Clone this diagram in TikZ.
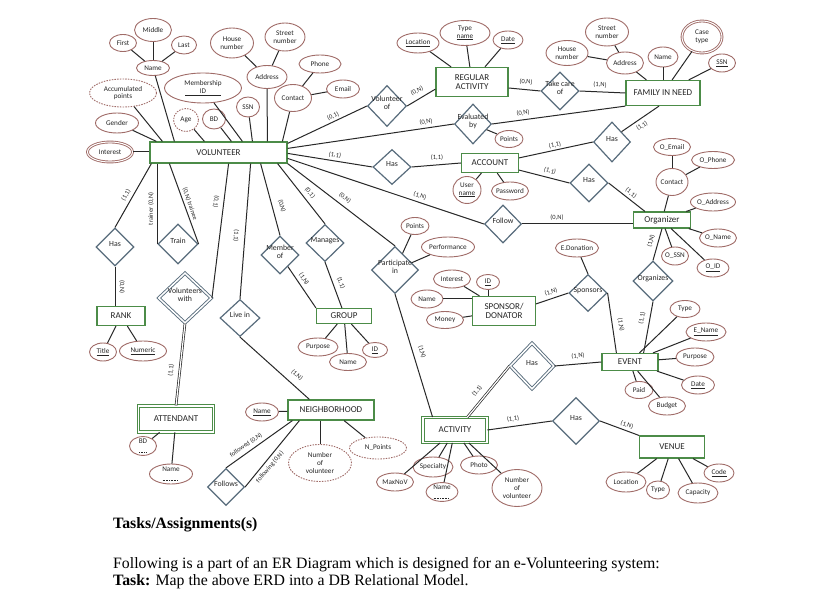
\documentclass[tikz,border=0pt]{standalone}
\usepackage{fontspec}
\setmainfont{Liberation Serif}
\newfontfamily\erfont{Carlito}
\usetikzlibrary{shapes.geometric}

\definecolor{attrc}{RGB}{160,108,104}
\definecolor{entc}{RGB}{76,140,72}
\definecolor{relc}{RGB}{88,108,124}
\definecolor{linec}{RGB}{40,40,40}

% text of a diamond, allowed to stick out of it
\newcommand{\rtxt}[1]{\smash{\makebox[0pt]{\begin{tabular}{@{}c@{}}#1\end{tabular}}}}
% dotted underline of a partial key
\newcommand{\dotul}[1]{\setbox0\hbox{#1}\vtop{\copy0\kern0.9pt\hbox to\wd0{\leaders\hbox to 1.6pt{\hss\vrule width 0.8pt height 0.45pt\hss}\hfill}}}

\tikzset{
  sz/.style 2 args={minimum width=#1pt, minimum height=#2pt},
  attr/.style={ellipse, draw=attrc, line width=0.9pt, fill=white, inner xsep=-3pt, inner ysep=0pt, align=center, text=black!85, font=\erfont\fontsize{7.2}{7.8}\selectfont},
  ent/.style={rectangle, draw=entc, line width=1.2pt, fill=white, inner sep=0pt, align=center, text=black!85, font=\erfont\fontsize{9}{9.5}\selectfont},
  rel/.style={diamond, draw=relc, line width=1.2pt, fill=white, inner sep=0pt, text=black!85, font=\erfont\fontsize{7.8}{8.2}\selectfont},
  link/.style={draw=linec, line width=1pt},
  twin/.style={draw=linec, double=white, double distance=1.2pt, line width=0.7pt},
  card/.style={inner sep=0pt, text=black!85, font=\erfont\fontsize{6.5}{7}\selectfont},
  derived/.style={dash pattern=on 1.5pt off 1.2pt},
  multi/.style={double=white, double distance=1pt},
  weak/.style={double=white, double distance=1.5pt, line width=0.9pt},
}

\begin{document}
\begin{tikzpicture}[x=1pt, y=-1pt]
	\fill[white] (0,0) rectangle (827,601);
	\useasboundingbox (0,0) rectangle (827,601);
	
	% volunteer
	\node[ent, sz={137}{21}] (vol) at (218.5,152.5) {VOLUNTEER};
	\node[attr, sz={37}{23}] (middle) at (153,30) {Middle};
	\node[attr, sz={27}{17}] (first) at (123,43) {First};
	\node[attr, sz={25}{18}] (last) at (184,45) {Last};
	\node[attr, sz={33}{15}] (vname) at (153,68) {Name};
	\node[attr, sz={43}{30}] (vhouse) at (232,43) {House\\number};
	\node[attr, sz={40}{28}] (vstreet) at (285,37) {Street\\number};
	\node[attr, sz={40}{23}] (vaddr) at (267,77) {Address};
	\node[attr, sz={42}{18}] (vphone) at (320,64) {Phone};
	\node[attr, sz={37}{27}] (vcontact) at (293,98) {Contact};
	\node[attr, sz={33}{18}] (vemail) at (343,89) {Email};
	\node[attr, sz={77}{30}] (memid) at (203,88) {Membership\\\underline{\makebox[36pt]{ID}}};
	\node[attr, sz={67}{28}, derived] (accum) at (123,93) {Accumulated\\points};
	\node[attr, sz={23}{20}] (vssn) at (248,107) {SSN};
	\node[attr, sz={23}{20}] (vbd) at (214,119) {BD};
	\node[attr, sz={25}{23}, derived] (age) at (186,120) {Age};
	\node[attr, sz={43}{20}] (gender) at (117,123) {Gender};
	\node[attr, sz={45}{20}, multi] (interest) at (110,152) {Interest};
	
	% regular activity
	\node[ent, sz={72}{29}] (reg) at (472,82) {REGULAR\\ACTIVITY};
	\node[attr, sz={42}{20}] (rloc) at (418,43) {\underline{Location}};
	\node[attr, sz={50}{25}] (rtype) at (465,33) {Type\\\underline{name}};
	\node[attr, sz={30}{18}] (rdate) at (508,40) {\underline{Date}};
	\node[rel, sz={39}{41}] (volof) at (387,106) {\rtxt{Volunteer\\of}};
	\node[rel, sz={37}{40}] (evb) at (473,124) {\rtxt{Evaluated\\by}};
	\node[attr, sz={28}{17}] (points1) at (509,139) {Points};
	
	% account
	\node[rel, sz={38}{35}] (hasacc) at (392,167) {\rtxt{Has}};
	\node[ent, sz={57}{19}] (acc) at (490,163) {ACCOUNT};
	\node[attr, sz={28}{27}] (uname) at (467,190) {User\\\underline{name}};
	\node[attr, sz={37}{18}] (pwd) at (510,191) {Password};
	
	% family in need
	\node[ent, sz={74}{25}] (fam) at (663,93) {FAMILY IN NEED};
	\node[rel, sz={38}{38}] (tco) at (560,91) {\rtxt{Take care\\of}};
	\node[attr, sz={43}{28}] (fstreet) at (607,32) {Street\\number};
	\node[attr, sz={42}{25}] (fhouse) at (567,53) {House\\number};
	\node[attr, sz={37}{22}] (faddr) at (625,63) {Address};
	\node[attr, sz={30}{20}] (fname) at (663,57) {Name};
	\node[attr, sz={40}{32}, multi] (ctype) at (702,37) {Case\\type};
	\node[attr, sz={27}{18}] (fssn) at (722,63) {\underline{SSN}};
	\node[rel, sz={37}{40}] (hasfam) at (612,142) {\rtxt{Has}};
	
	% organizer
	\node[rel, sz={38}{38}] (hasorg) at (589,183) {\rtxt{Has}};
	\node[ent, sz={57}{16}] (org) at (662,220) {Organizer};
	\node[attr, sz={37}{17}] (oemail) at (672,147) {O\_Email};
	\node[attr, sz={43}{17}] (ophone) at (713,160) {O\_Phone};
	\node[attr, sz={32}{27}] (ocontact) at (672,182) {Contact};
	\node[attr, sz={45}{18}] (oaddr) at (713,202) {O\_Address};
	\node[attr, sz={37}{18}] (oname) at (718,238) {O\_Name};
	\node[attr, sz={27}{18}] (ossn) at (675,256) {O\_SSN};
	\node[attr, sz={32}{18}] (oid) at (713,268) {\underline{O\_ID}};
	\node[rel, sz={37}{38}] (fol) at (503,224) {\rtxt{Follow}};
	\node[rel, sz={40}{40}] (orgz) at (653,281) {\rtxt{Organizes}};
	
	% participation, sponsor
	\node[rel, sz={47}{47}] (part) at (395,270) {\rtxt{Participate\\in}};
	\node[attr, sz={28}{17}] (ppoints) at (415,226) {Points};
	\node[attr, sz={53}{20}] (perf) at (448,247) {Performance};
	\node[ent, sz={63}{29}] (spon) at (504,311) {SPONSOR/\\DONATOR};
	\node[attr, sz={37}{18}] (sint) at (452,279) {Interest};
	\node[attr, sz={23}{15}] (sid) at (488,282) {\underline{ID}};
	\node[attr, sz={32}{18}] (sname) at (427,299) {Name};
	\node[attr, sz={37}{17}] (money) at (445,320) {Money};
	\node[attr, sz={43}{18}] (edon) at (577,248) {E.Donation};
	\node[rel, sz={38}{37}] (sps) at (588,293) {\rtxt{Sponsors}};
	
	% rank, train, group
	\node[rel, sz={38}{38}] (hasr) at (115,247) {\rtxt{Has}};
	\node[ent, sz={48}{19}] (rank) at (121,316) {RANK};
	\node[attr, sz={27}{18}] (title) at (103,352) {\underline{Title}};
	\node[attr, sz={47}{20}] (numeric) at (143,351) {\underline{Numeric}};
	\node[rel, sz={40}{40}] (train) at (178,244) {\rtxt{Train}};
	\node[rel, sz={53}{50}, weak] (vw) at (185,298) {\rtxt{Volunteers\\with}};
	\node[rel, sz={40}{37}] (livein) at (240,318) {\rtxt{Live in}};
	\node[rel, sz={38}{37}] (man) at (325,243) {\rtxt{Manages}};
	\node[rel, sz={38}{38}] (mem) at (280,255) {\rtxt{Member\\of}};
	\node[ent, sz={55}{15}] (grp) at (344,316) {GROUP};
	\node[attr, sz={40}{18}] (purpose) at (318,347) {Purpose};
	\node[attr, sz={37}{17}] (gname) at (348,362) {Name};
	\node[attr, sz={25}{15}] (gid) at (375,350) {\underline{ID}};
	
	% attendant, neighborhood
	\node[ent, sz={75}{26}, weak] (att) at (176,419) {ATTENDANT};
	\node[attr, sz={27}{18}] (abd) at (143,446) {\dotul{BD}};
	\node[attr, sz={43}{20}] (aname) at (171,474) {\dotul{Name}};
	\node[ent, sz={86}{20}] (nbh) at (331,410) {NEIGHBORHOOD};
	\node[attr, sz={33}{18}] (nname) at (262,412) {\underline{Name}};
	\node[attr, sz={63}{37}, derived] (numvol) at (320,463) {Number\\of\\volunteer};
	\node[attr, sz={57}{22}, derived] (npoints) at (378,448) {N\_Points};
	\node[rel, sz={37}{37}] (follows) at (226,487) {\rtxt{Follows}};
	
	% activity, event, venue
	\node[ent, sz={64}{25}, weak] (act) at (455,430) {ACTIVITY};
	\node[rel, sz={44}{46}, weak] (hasev) at (532,366) {\rtxt{Has}};
	\node[rel, sz={47}{47}] (hasven) at (576,421) {\rtxt{Has}};
	\node[attr, sz={40}{20}] (spec) at (433,467) {Specialty};
	\node[attr, sz={37}{18}] (photo) at (479,465) {Photo};
	\node[attr, sz={37}{18}] (maxnov) at (395,482) {MaxNoV};
	\node[attr, sz={32}{17}] (aname2) at (442,492) {\dotul{Name}};
	\node[attr, sz={50}{37}] (anumvol) at (517,488) {Number\\of\\volunteer};
	\node[ent, sz={56}{17}] (evt) at (630,362) {EVENT};
	\node[attr, sz={30}{17}] (etype) at (685,309) {Type};
	\node[attr, sz={40}{18}] (ename) at (706,332) {\underline{E\_Name}};
	\node[attr, sz={38}{18}] (epurp) at (695,357) {Purpose};
	\node[attr, sz={33}{18}] (edate) at (698,385) {\underline{Date}};
	\node[attr, sz={28}{17}] (paid) at (639,390) {Paid};
	\node[attr, sz={37}{18}] (budget) at (667,406) {Budget};
	\node[ent, sz={65}{22}] (ven) at (672,447) {VENUE};
	\node[attr, sz={40}{20}] (vloc) at (626,482) {Location};
	\node[attr, sz={23}{18}] (vtype) at (658,490) {Type};
	\node[attr, sz={40}{20}] (cap) at (698,493) {Capacity};
	\node[attr, sz={30}{18}] (code) at (719,473) {\underline{Code}};
	
	% volunteer attributes
	\draw[link] (vname) -- (first);
	\draw[link] (vname) -- (middle);
	\draw[link] (vname) -- (last);
	\draw[link] (vaddr) -- (vhouse);
	\draw[link] (vaddr) -- (vstreet);
	\draw[link] (vcontact) -- (vphone);
	\draw[link] (vcontact) -- (vemail);
	\draw[link] (interest) -- (interest -| vol.west);
	\draw[link] (gender) -- ([xshift=7pt]vol.north west);
	\draw[link] (accum) -- ([xshift=13pt]vol.north west);
	\draw[link] (vname) -- ([xshift=25pt]vol.north west);
	\draw[link] (age) -- ([xshift=55pt]vol.north west);
	\draw[link] (vbd) -- ([xshift=82pt]vol.north west);
	\draw[link] (memid) -- ([xshift=93pt]vol.north west);
	\draw[link] (vssn) -- ([xshift=103pt]vol.north west);
	\draw[link] (vaddr) -- ([xshift=118pt]vol.north west);
	\draw[link] (vcontact) -- ([xshift=133pt]vol.north west);
	
	% volunteer relationships
	\draw[link] ([yshift=-2pt]vol.north east) -- (volof.west);
	\draw[link] (volof.east) -- ([yshift=8pt]reg.south west);
	\draw[link] ([yshift=-7pt]vol.north east) -- (evb.west);
	\draw[link] (evb.east) -- (fam.south west);
	\draw[link] (evb) -- (points1);
	\draw[link] ([yshift=-12pt]vol.north east) -- (hasacc.west);
	\draw[link] (hasacc.east) -- (acc.west);
	\draw[link] ([yshift=-17pt]vol.north east) -- (fol.west);
	\draw[link] (fol.east) -- (fol.east -| org.west);
	\draw[link] (vol.south east) -- (part.north);
	\draw[link] ([xshift=-10pt]vol.south east) -- (man.north);
	\draw[link] ([xshift=-27pt]vol.south east) -- (mem.north);
	\draw[link] ([xshift=-37pt]vol.south east) -- (livein.north);
	\draw[link] ([xshift=-59pt]vol.south east) -- (vw.east);
	\draw[link] ([xshift=20pt]vol.south west) -- (train.east);
	\draw[link] ([xshift=8pt]vol.south west) -- (train.west);
	\draw[link] ([xshift=2pt]vol.south west) -- (hasr.north);
	
	% regular activity, family
	\draw[link] (reg) -- (rloc);
	\draw[link] (reg) -- (rtype);
	\draw[link] (reg) -- (rdate);
	\draw[link] ([yshift=-6pt]reg.east) -- (tco.west);
	\draw[link] (tco.east) -- (fam.west);
	\draw[link] (faddr) -- (fhouse);
	\draw[link] (faddr) -- (fstreet);
	\draw[link] (fam) -- (faddr);
	\draw[link] (fam) -- (fname);
	\draw[link] (fam) -- (ctype);
	\draw[link] (fam) -- (fssn);
	
	% account, organizer
	\draw[link] (acc) -- (uname);
	\draw[link] (acc) -- (pwd);
	\draw[link] ([yshift=-5pt]acc.north east) -- (hasfam.west);
	\draw[link] (hasfam.north east) -- ([xshift=-4pt]fam.south);
	\draw[link] ([yshift=3pt]acc.south east) -- (hasorg.west);
	\draw[link] (hasorg.east) -- ([xshift=12pt]org.north west);
	\draw[link] (org) -- (ocontact);
	\draw[link] (ocontact) -- (oemail);
	\draw[link] (ocontact) -- (ophone);
	\draw[link] (org) -- (oaddr);
	\draw[link] (org) -- (oname);
	\draw[link] (org) -- (ossn);
	\draw[link] (org) -- (oid);
	\draw[link] (org.south) -- (orgz.north);
	\draw[link] (orgz.south) -- ([xshift=-15pt]evt.north east);
	
	% participation, sponsor
	\draw[link] (part) -- (ppoints);
	\draw[link] (part) -- (perf);
	\draw[link] (part.south) -- ([xshift=10pt]act.north west);
	\draw[link] (spon) -- (sint);
	\draw[link] (sid) -- (sid |- spon.north);
	\draw[link] (sname) -- (sname -| spon.west);
	\draw[link] (spon) -- (money);
	\draw[link] ([yshift=-8pt]spon.north east) -- (sps.west);
	\draw[link] (edon) -- (sps.north);
	\draw[link] (sps.east) -- ([xshift=15pt]evt.north west);
	
	% rank, group, attendant, neighborhood
	\draw[link] (hasr.south) -- (hasr.south |- rank.north);
	\draw[link] (rank) -- (title);
	\draw[link] (rank) -- (numeric);
	\draw[link] (mem) -- (grp.north west);
	\draw[link] (man.south) -- ([xshift=26pt]grp.north west);
	\draw[link] (grp) -- (purpose);
	\draw[link] (grp) -- (gname);
	\draw[link] (grp) -- (gid);
	\draw[twin] (vw.south) -- (att.north);
	\draw[link] (att) -- (abd);
	\draw[link] (att) -- (aname);
	\draw[link] (livein.south) -- ([xshift=22pt]nbh.north west);
	\draw[link] (nbh) -- (nname);
	\draw[link] (numvol.north) -- (numvol.north |- nbh.south);
	\draw[link] (nbh) -- (npoints);
	\draw[link] (follows.north) -- ([xshift=5pt]nbh.south west);
	\draw[link] (follows.east) -- ([xshift=12pt]nbh.south west);
	
	% activity, event, venue
	\draw[twin] ([xshift=-20pt]act.north east) -- (hasev.west);
	\draw[link] (hasev.east) -- (evt.west);
	\draw[link] (act.east) -- (hasven.west);
	\draw[link] (hasven.east) -- (ven.north west);
	\draw[link] (act) -- (spec);
	\draw[link] (act) -- (photo);
	\draw[link] (act) -- (maxnov);
	\draw[link] (act) -- (aname2);
	\draw[link] (act) -- (anumvol);
	\draw[link] (evt) -- (etype);
	\draw[link] (evt) -- (ename);
	\draw[link] (evt) -- (epurp);
	\draw[link] (evt) -- (edate);
	\draw[link] (evt) -- (paid);
	\draw[link] (evt) -- (budget);
	\draw[link] (ven) -- (vloc);
	\draw[link] (ven) -- (vtype);
	\draw[link] (ven) -- (cap);
	\draw[link] (ven) -- (code);
	
	% cardinalities
	\node[card, rotate=25] (c1) at (333,116) {(0,1)};
	\node[card, rotate=25] (c2) at (417,91) {(0,N)};
	\node[card, rotate=9] (c3) at (426,122) {(0,N)};
	\node[card, rotate=-8] (c4) at (335,155) {(1,1)};
	\node[card] (c5) at (437,158) {(1,1)};
	\node[card, rotate=-5] (c6) at (526,82) {(0,N)};
	\node[card, rotate=-2] (c7) at (600,85) {(1,N)};
	\node[card, rotate=8] (c8) at (523,113) {(0,N)};
	\node[card, rotate=12] (c9) at (555,145) {(1,1)};
	\node[card, rotate=34] (c10) at (642,126) {(1,1)};
	\node[card, rotate=-15] (c11) at (550,171) {(1,1)};
	\node[card, rotate=-38] (c12) at (631,193) {(1,1)};
	\node[card, rotate=-18] (c13) at (420,196) {(1,N)};
	\node[card] (c14) at (557,218) {(0,N)};
	\node[card, rotate=18] (c15) at (551,292) {(1,N)};
	\node[card, rotate=75] (c16) at (651,241) {(1,N)};
	\node[card, rotate=60] (c17) at (126,195) {(1,1)};
	\node[card, rotate=-90] (c18) at (122,287) {(0,N)};
	\node[card, rotate=90] (c19) at (151,209) {trainer (0,N)};
	\node[card, rotate=-71] (c20) at (190,204) {(0,N) trainee};
	\node[card, rotate=-97] (c21) at (216,202) {(0,1)};
	\node[card, rotate=-94] (c22) at (236,236) {(1,1)};
	\node[card, rotate=-75] (c23) at (282,206) {(0,N)};
	\node[card, rotate=-52] (c24) at (310,193) {(0,1)};
	\node[card, rotate=-38] (c25) at (345,198) {(0,N)};
	\node[card, rotate=-69] (c26) at (341,283) {(1,1)};
	\node[card, rotate=-56] (c27) at (304,279) {(1,N)};
	\node[card, rotate=84] (c28) at (171,370) {(1,1)};
	\node[card, rotate=-42] (c29) at (297,375) {(1,N)};
	\node[card, rotate=34] (c30) at (246,445) {followed (0,N)};
	\node[card, rotate=50] (c31) at (270,467) {following (0,N)};
	\node[card, rotate=-73] (c32) at (422,352) {(1,N)};
	\node[card, rotate=50] (c33) at (477,391) {(1,1)};
	\node[card, rotate=8] (c34) at (513,419) {(1,1)};
	\node[card, rotate=5] (c35) at (578,356) {(1,N)};
	\node[card, rotate=-80] (c36) at (621,325) {(1,N)};
	\node[card, rotate=79] (c37) at (642,318) {(1,1)};
	\node[card, rotate=-21] (c38) at (627,425) {(1,N)};
	
	% task text
	\node[anchor=base west, inner sep=0pt, font=\fontsize{15.8}{18}\selectfont\bfseries] (ttl) at (113,528) {Tasks/Assignments(s)};
	\node[anchor=base west, inner sep=0pt, font=\fontsize{15.8}{18}\selectfont] (txt1) at (113,568) {Following is a part of an ER Diagram which is designed for an e-Volunteering system:};
	\node[anchor=base west, inner sep=0pt, font=\fontsize{15.8}{18}\selectfont] (txt2) at (113,585) {\textbf{Task:} Map the above ERD into a DB Relational Model.};
	
\end{tikzpicture}
\end{document}
